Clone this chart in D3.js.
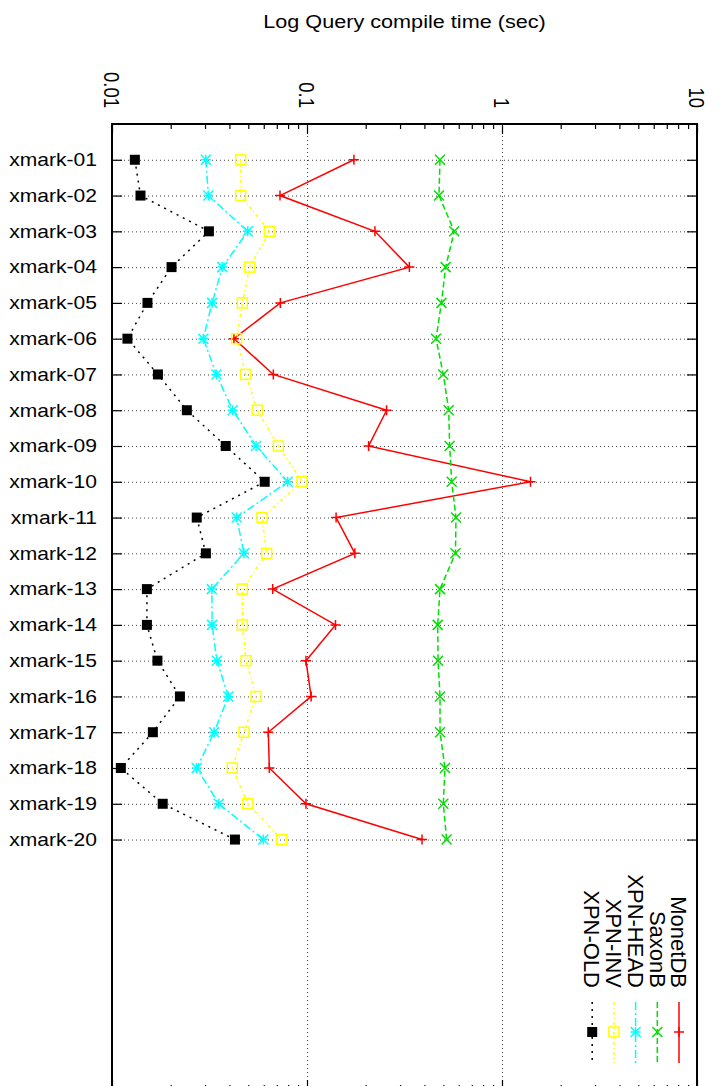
<!DOCTYPE html>
<html>
<head>
<meta charset="utf-8">
<script src="https://cdn.jsdelivr.net/npm/d3@7"></script>
<style>
  body { margin:0; background:#fff; }
  svg { display:block; font-family:"Liberation Sans", Arial, Helvetica, sans-serif; }
</style>
</head>
<body>
<svg id="chart" width="721" height="1086"></svg>
<script>
// data
var categories = ["xmark-01","xmark-02","xmark-03","xmark-04","xmark-05","xmark-06","xmark-07","xmark-08","xmark-09","xmark-10",
                  "xmark-11","xmark-12","xmark-13","xmark-14","xmark-15","xmark-16","xmark-17","xmark-18","xmark-19","xmark-20"];
var monetdb = [0.174,0.0727,0.223,0.335,0.073,0.0422,0.0672,0.256,0.207,1.40,0.141,0.176,0.0667,0.140,0.0988,0.105,0.0633,0.0641,0.0988,0.389];
var saxonb  = [0.481,0.475,0.569,0.514,0.489,0.459,0.500,0.533,0.539,0.552,0.581,0.577,0.481,0.468,0.470,0.481,0.481,0.510,0.500,0.520];
var xpnHead = [0.0303,0.0312,0.0497,0.0368,0.0326,0.0294,0.0343,0.0416,0.0548,0.0796,0.0436,0.0475,0.0325,0.0326,0.0345,0.0395,0.0334,0.0272,0.0353,0.0597];
var xpnInv  = [0.0457,0.0457,0.0641,0.0508,0.0466,0.0436,0.0485,0.0556,0.0713,0.0942,0.0588,0.0621,0.0466,0.0466,0.0487,0.0548,0.0475,0.0414,0.0497,0.0742];
var xpnOld  = [0.0131,0.0140,0.0314,0.0202,0.0152,0.0120,0.0172,0.0242,0.0383,0.0607,0.0272,0.0303,0.0151,0.0151,0.0171,0.0223,0.0162,0.0111,0.0182,0.0427];
var majorTicks = [0.01, 0.1, 1, 10];
var majorLabels = ["0.01", "0.1", "1", "10"];
var title = "Log Query compile time (sec)";

var series = [
  {name:"MonetDB",  values:monetdb, color:"#ff0000", dash:null,      sym:"plus"},
  {name:"SaxonB",   values:saxonb,  color:"#00e000", dash:"6,3",     sym:"cross"},
  {name:"XPN-HEAD", values:xpnHead, color:"#00ffff", dash:"8,3,2,3", sym:"star"},
  {name:"XPN-INV",  values:xpnInv,  color:"#ffff00", dash:"3,3,1,3", sym:"square"},
  {name:"XPN-OLD",  values:xpnOld,  color:"#000000", dash:"2,5",     sym:"fsquare"}
];

var pLeft = 112, pRight = 697, pTop = 124, pBottom = 1090;
var svg = d3.select("#chart");

var x = d3.scaleLog().domain([0.01, 10]).range([pLeft, pRight]);
var y = d3.scaleLinear().domain([0, 27]).range([pTop, pBottom]);

var minorTicks = [];
[0.01, 0.1, 1].forEach(function(d){ for (var k=2;k<10;k++) minorTicks.push(d*k); });

// grid
var grid = svg.append("g").attr("stroke","#444").attr("stroke-width",1).attr("stroke-dasharray","1,3").attr("fill","none");
grid.selectAll("line.h").data(categories).enter().append("line")
  .attr("x1", pLeft).attr("x2", pRight)
  .attr("y1", function(d,i){ return y(i+1)+0.5; }).attr("y2", function(d,i){ return y(i+1)+0.5; });
grid.selectAll("line.v").data([0.1, 1]).enter().append("line")
  .attr("x1", function(d){ return x(d)+0.5; }).attr("x2", function(d){ return x(d)+0.5; })
  .attr("y1", pTop).attr("y2", pBottom);

// ticks (inward, mirrored)
function xAxis(gen, yPos) {
  svg.append("g").attr("transform","translate(0,"+yPos+")")
    .call(gen(x).tickValues(majorTicks).tickSize(-10).tickFormat(""))
    .call(function(g){ g.select(".domain").remove(); });
  svg.append("g").attr("transform","translate(0,"+yPos+")")
    .call(gen(x).tickValues(minorTicks).tickSize(-5).tickFormat(""))
    .call(function(g){ g.select(".domain").remove(); });
}
xAxis(d3.axisTop, pTop);
xAxis(d3.axisBottom, pBottom);
var idx = d3.range(1, categories.length+1);
svg.append("g").attr("transform","translate("+pLeft+",0)")
  .call(d3.axisLeft(y).tickValues(idx).tickSize(-10).tickFormat(""))
  .call(function(g){ g.select(".domain").remove(); });
svg.append("g").attr("transform","translate("+pRight+",0)")
  .call(d3.axisRight(y).tickValues(idx).tickSize(-10).tickFormat(""))
  .call(function(g){ g.select(".domain").remove(); });
svg.selectAll(".tick line").attr("stroke","#000").attr("stroke-width",1.2);

// border
svg.append("rect").attr("x",pLeft).attr("y",pTop).attr("width",pRight-pLeft).attr("height",pBottom-pTop)
  .attr("fill","none").attr("stroke","#000").attr("stroke-width",2);

// category labels
svg.append("g").selectAll("text").data(categories).enter().append("text")
  .attr("transform", function(d,i){ return "translate(97,"+y(i+1)+") scale(1.17,1)"; })
  .attr("text-anchor","end").attr("dy","0.35em").attr("font-size",18).text(function(d){ return d; });

// value labels (rotated)
svg.append("g").selectAll("text").data(majorTicks).enter().append("text")
  .attr("transform", function(d){ return "translate("+x(d)+",108) scale(1.17,1) rotate(90)"; })
  .attr("text-anchor","end").attr("dy","0.35em").attr("font-size",18.5)
  .text(function(d,i){ return majorLabels[i]; });

// title
svg.append("text").attr("transform","translate("+((pLeft+pRight)/2)+",28) scale(1.17,1)")
  .attr("text-anchor","middle").attr("font-size",18.5).text(title);

// symbols
function symbol(g, type, color, s) {
  var h = s/2;
  if (type=="plus") g.append("path").attr("d","M"+(-h)+",0H"+h+"M0,"+(-h)+"V"+h).attr("stroke",color).attr("stroke-width",1.5).attr("fill","none");
  if (type=="cross") g.append("path").attr("d","M"+(-h)+","+(-h)+"L"+h+","+h+"M"+(-h)+","+h+"L"+h+","+(-h)).attr("stroke",color).attr("stroke-width",1.5).attr("fill","none");
  if (type=="star") g.append("path").attr("d","M"+(-h)+",0H"+h+"M0,"+(-h)+"V"+h+"M"+(-h)+","+(-h)+"L"+h+","+h+"M"+(-h)+","+h+"L"+h+","+(-h)).attr("stroke",color).attr("stroke-width",1.5).attr("fill","none");
  if (type=="square") g.append("rect").attr("x",-h).attr("y",-h).attr("width",s).attr("height",s).attr("stroke",color).attr("stroke-width",1.5).attr("fill","none");
  if (type=="fsquare") g.append("rect").attr("x",-h).attr("y",-h).attr("width",s).attr("height",s).attr("fill",color);
}

var line = d3.line().x(function(d){ return x(d); }).y(function(d,i){ return y(i+1); });
series.forEach(function(s){
  var g = svg.append("g");
  g.append("path").datum(s.values).attr("d", line).attr("fill","none")
    .attr("stroke", s.color).attr("stroke-width",1.5).attr("stroke-dasharray", s.dash);
  s.values.forEach(function(v,i){
    var p = g.append("g").attr("transform","translate("+x(v)+","+y(i+1)+")");
    symbol(p, s.sym, s.color, 10);
  });
});

// legend (rotated)
var legend = svg.append("g");
series.forEach(function(s, i){
  var cx = 679 - i*21.7;
  legend.append("text").attr("transform","translate("+cx+",988) rotate(90)")
    .attr("text-anchor","end").attr("dy","0.35em").attr("font-size",22).text(s.name);
  legend.append("line").attr("x1",cx).attr("x2",cx).attr("y1",1002).attr("y2",1063)
    .attr("stroke", s.color).attr("stroke-width",1.5).attr("stroke-dasharray", s.dash);
  var p = legend.append("g").attr("transform","translate("+cx+",1032)");
  symbol(p, s.sym, s.color, 10);
});
</script>
</body>
</html>
